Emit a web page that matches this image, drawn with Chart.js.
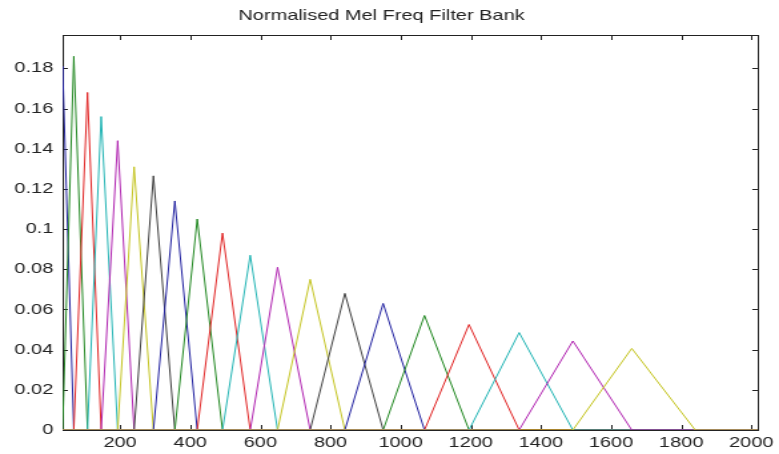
<!DOCTYPE html>
<html>
<head>
<meta charset="utf-8">
<script src="https://cdn.jsdelivr.net/npm/chart.js@4.4.1/dist/chart.umd.min.js"></script>
<style>
  html, body { margin: 0; padding: 0; background: #fff; }
</style>
</head>
<body>
<canvas id="grafik" width="585" height="454" style="display:block;width:779px;height:454px"></canvas>
<script>
// filter edges (Hz): filter i rises from edges[i], peaks at edges[i+1], falls to edges[i+2]
const edges = [4, 36, 68, 107, 146, 193, 240, 295, 356, 420, 492, 571,
  649, 742, 841, 950, 1068, 1195, 1338, 1491, 1659, 1840];
// peak heights of the 20 filters
const peaks = [0.181, 0.186, 0.168, 0.156, 0.144, 0.131, 0.1265, 0.114, 0.105, 0.098,
  0.087, 0.081, 0.075, 0.068, 0.063, 0.057, 0.0525, 0.0485, 0.0443, 0.0406];
const xTicks = [200, 400, 600, 800, 1000, 1200, 1400, 1600, 1800, 2000];
const yTicks = [0, 0.02, 0.04, 0.06, 0.08, 0.1, 0.12, 0.14, 0.16, 0.18];
const xRange = [36, 2018];
const yRange = [0, 0.1966];

// warna bawaan matlab lama: b g r c m y k
const warna = ["#2222a0", "#228822", "#e02424", "#22b4b4", "#b024b0", "#c4c422", "#404040"];

const datasets = peaks.map((h, i) => ({
  label: "filter " + (i + 1),
  data: [
    { x: xRange[0], y: 0 },
    { x: edges[i], y: 0 },
    { x: edges[i + 1], y: h },
    { x: edges[i + 2], y: 0 },
    { x: xRange[1], y: 0 },
  ],
  borderColor: warna[i % warna.length],
  borderWidth: 1,
  pointRadius: 0,
  tension: 0,
  fill: false,
  order: peaks.length - i,
}));

// kotak sumbu dan tick ke dalam ala matlab
const kotakMatlab = {
  id: "kotakMatlab",
  beforeDatasetsDraw(chart) {
    const { ctx, chartArea: a, scales } = chart;
    ctx.save();
    ctx.strokeStyle = "#222";
    ctx.lineWidth = 1;
    ctx.beginPath();
    xTicks.forEach((v) => {
      const px = Math.round(scales.x.getPixelForValue(v)) + 0.5;
      ctx.moveTo(px, a.bottom); ctx.lineTo(px, a.bottom - 5);
      ctx.moveTo(px, a.top); ctx.lineTo(px, a.top + 5);
    });
    yTicks.forEach((v) => {
      const py = Math.round(scales.y.getPixelForValue(v)) + 0.5;
      ctx.moveTo(a.left, py); ctx.lineTo(a.left + 4, py);
      ctx.moveTo(a.right, py); ctx.lineTo(a.right - 4, py);
    });
    ctx.stroke();
    ctx.strokeRect(Math.round(a.left) + 0.5, Math.round(a.top) + 0.5,
      Math.round(a.right - a.left), Math.round(a.bottom - a.top));
    ctx.restore();
  },
};

const ctx = document.getElementById("grafik").getContext("2d");
new Chart(ctx, {
  type: "line",
  data: { datasets },
  options: {
    responsive: false,
    animation: false,
    layout: { padding: { left: 0, right: 12, top: 0, bottom: 0 } },
    plugins: {
      legend: { display: false },
      tooltip: { enabled: false },
      title: {
        display: true,
        text: "Normalised Mel Freq Filter Bank",
        color: "#222",
        font: { family: "'Liberation Sans', Arial, sans-serif", size: 15, weight: "normal" },
        padding: { top: 7, bottom: 10 },
      },
    },
    scales: {
      x: {
        type: "linear",
        min: xRange[0],
        max: xRange[1],
        afterBuildTicks: (s) => { s.ticks = xTicks.map((v) => ({ value: v })); },
        afterFit: (s) => { s.height = 24; },
        grid: { display: false, drawTicks: false },
        border: { display: false },
        ticks: {
          color: "#222",
          padding: 4,
          maxRotation: 0,
          autoSkip: false,
          font: { family: "'Liberation Sans', Arial, sans-serif", size: 15 },
          callback: (v) => String(v),
        },
      },
      y: {
        min: yRange[0],
        max: yRange[1],
        afterBuildTicks: (s) => { s.ticks = yTicks.map((v) => ({ value: v })); },
        afterFit: (s) => { s.width = 47; },
        grid: { display: false, drawTicks: false },
        border: { display: false },
        ticks: {
          color: "#222",
          padding: 7,
          autoSkip: false,
          font: { family: "'Liberation Sans', Arial, sans-serif", size: 15 },
          callback: (v) => String(Math.round(v * 100) / 100),
        },
      },
    },
  },
  plugins: [kotakMatlab],
});
</script>
</body>
</html>
